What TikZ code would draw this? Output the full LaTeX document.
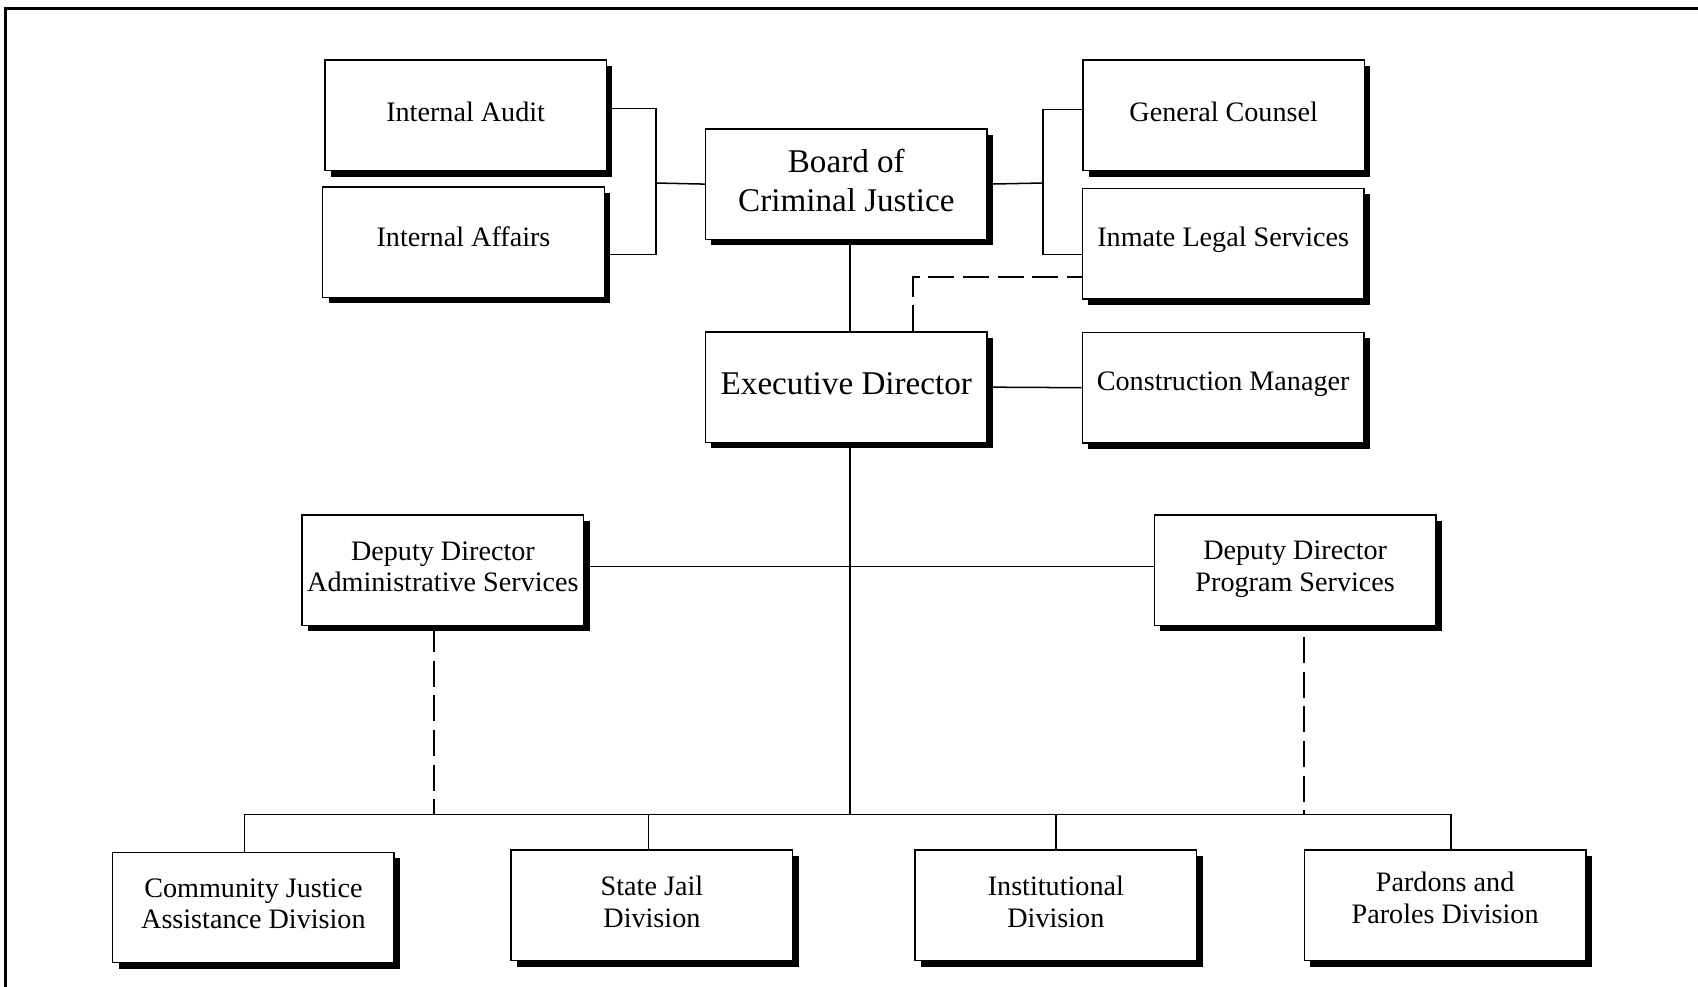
\documentclass[tikz,border=0pt]{standalone}
\usepackage{fontspec}
\setmainfont{Liberation Serif}
\usetikzlibrary{shadows}
\begin{document}
\begin{tikzpicture}[x=0.5pt,y=-0.5pt,
  orgbox/.style={draw, fill=white, line width=0.7pt, minimum width=130pt, minimum height=51pt,
    inner sep=0pt,
    general shadow={fill=black, shadow xshift=2.75pt, shadow yshift=-2.75pt}},
  txt/.style={align=center, inner sep=0pt, yshift=1.6pt, font=\fontsize{13}{14.5}\selectfont},
  bigtxt/.style={txt, font=\fontsize{15.3}{18}\selectfont},
  link/.style={line width=0.7pt},
  dlink/.style={line width=0.9pt, dash pattern=on 12pt off 4pt}]
\useasboundingbox[fill=white] (0,0) rectangle (1568,911);
% frame
\draw[line width=1.3pt] (5,911) -- (5,8) -- (1568,8);
% boxes
\node[orgbox, label={[txt]center:Internal Audit}]   (IA)   at (430,106.5) {};
\node[orgbox, label={[txt, yshift=1pt]center:Internal Affairs}] (IAff) at (428,223.5) {};
\node[orgbox, label={[bigtxt]center:{Board of\\Criminal Justice}}] (BCJ) at (781.5,170) {};
\node[orgbox, label={[txt]center:General Counsel}]  (GC)   at (1130,106.5) {};
\node[orgbox, label={[txt]center:Inmate Legal Services}] (ILS) at (1129.5,225) {};
\node[orgbox, label={[bigtxt]center:Executive Director}] (ED) at (781.5,357.5) {};
\node[orgbox, label={[txt]center:Construction Manager}] (CM) at (1129.5,358) {};
\node[orgbox, label={[txt]center:{Deputy Director\\Administrative Services}}] (DDA) at (409,526.5) {};
\node[orgbox, label={[txt, yshift=-1.2pt]center:{Deputy Director\\Program Services}}] (DDP) at (1196,526.5) {};
\node[orgbox, label={[txt]center:{Community Justice\\Assistance Division}}] (CJAD) at (234,838) {};
\node[orgbox, label={[txt]center:{State Jail\\Division}}] (SJ) at (602,836) {};
\node[orgbox, label={[txt]center:{Institutional\\Division}}] (INST) at (975,836) {};
\node[orgbox, label={[txt, yshift=1.8pt]center:{Pardons and\\Paroles Division}}] (PP) at (1334.5,836) {};
% junction coordinates
\coordinate (jL) at (606,169);
\coordinate (jR) at (963,169);
\coordinate (busC) at (785,752);
\coordinate (busA) at (401,752);
\coordinate (busP) at (1204,752);
\coordinate (cjTop) at ([xshift=-4pt]CJAD.north);
\coordinate (sjTop) at ([xshift=-1.5pt]SJ.north);
\coordinate (ppTop) at ([xshift=2.75pt]PP.north);
\coordinate (edTop) at ([xshift=1.75pt]ED.north);
\coordinate (edBot) at ([xshift=1.75pt]ED.south);
\coordinate (bcjBot) at ([xshift=1.75pt]BCJ.south);
\coordinate (dashTop) at ([xshift=30.75pt]ED.north);
\coordinate (ilsDash) at ([yshift=-15.5pt]ILS.west);
\coordinate (ddaBot) at ([xshift=-4pt]DDA.south);
\coordinate (ddpBot) at ([xshift=4pt,yshift=-5pt]DDP.south);
% left bracket
\draw[link] ([yshift=3.25pt]IA.east) -| (jL) |- ([yshift=-5.75pt]IAff.east);
\draw[link] (jL) -- (BCJ.west);
% right bracket
\draw[link] (BCJ.east) -- (jR);
\draw[link] ([yshift=2.75pt]GC.west) -| (jR) |- ([yshift=-5pt]ILS.west);
% board to executive director
\draw[link] (bcjBot) -- (edTop);
% dashed to inmate legal services
\draw[dlink] (dashTop) |- (ilsDash);
% construction manager
\draw[link] (ED.east) -- (CM.west);
% trunk
\draw[link] (edBot) -- (busC);
% deputy directors
\draw[link] ([yshift=1.75pt]DDA.east) -- ([yshift=1.75pt]DDP.west);
\draw[dlink] (ddaBot) -- (busA);
\draw[dlink] (ddpBot) -- (busP);
% bus and divisions
\draw[link] (cjTop) |- (busC) -| (ppTop);
\draw[link] (sjTop) -- (sjTop |- busC);
\draw[link] (INST.north) -- (INST.north |- busC);
\end{tikzpicture}
\end{document}
